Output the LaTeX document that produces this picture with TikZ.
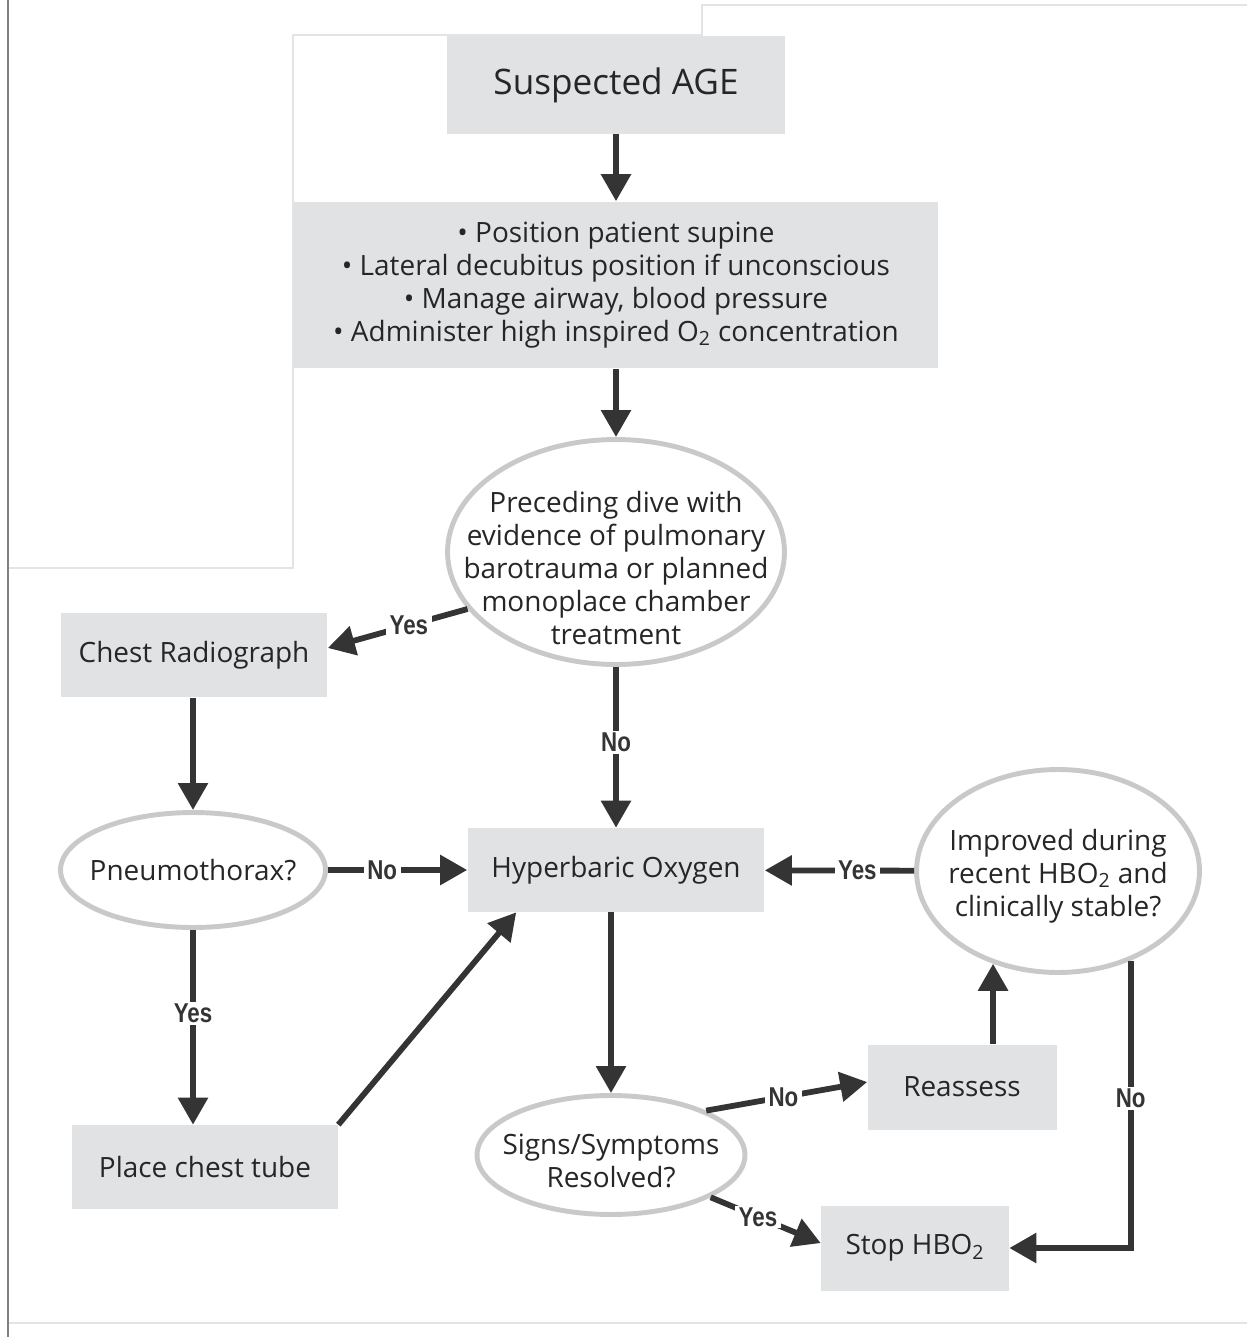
\documentclass[tikz,border=0pt]{standalone}
\usepackage{fontspec}
\setmainfont{Open Sans}
\newfontfamily\yesnofont{Liberation Sans}[FakeStretch=0.82]
\usetikzlibrary{arrows.meta,shapes.geometric}
\definecolor{boxgrey}{RGB}{225,226,228}
\definecolor{ovalgrey}{RGB}{200,201,203}
\definecolor{arrowgrey}{RGB}{52,52,52}
\definecolor{inkgrey}{RGB}{38,38,38}
\definecolor{scangrey}{RGB}{228,228,228}
\begin{document}
\begin{tikzpicture}[x=0.02cm,y=-0.02cm,
  >={Triangle[length=0.54cm,width=0.58cm]},
  every node/.style={text=inkgrey,font=\fontsize{15.9}{18.8}\selectfont},
  stepbox/.style={rectangle,fill=boxgrey,inner sep=0pt,align=center},
  question/.style={ellipse,draw=ovalgrey,line width=2.8pt,fill=white,inner sep=0pt},
  flow/.style={->,draw=arrowgrey,line width=3.3pt},
  yn/.style={fill=white,inner xsep=2pt,inner ysep=1pt,text=arrowgrey,
    font=\yesnofont\bfseries\fontsize{15.5}{15.5}\selectfont}]
  \useasboundingbox (0,0) rectangle (1247,1337);
  % edges of the scan
  \draw[scangrey,line width=0.6pt] (8,1323) -- (1247,1323);
  \draw[scangrey,line width=0.6pt] (8,568) -- (293,568) -- (293,35) -- (702,35) -- (702,5) -- (1247,5);
  \draw[gray,line width=1pt] (8,0) -- (8,1337);
  % boxes
  \node[stepbox,minimum width=6.78cm,minimum height=1.96cm,font=\fontsize{20}{22}\selectfont] (age) at (616,85) {Suspected AGE};
  \node[stepbox,minimum width=12.9cm,minimum height=3.34cm] (first) at (616,285)
    {\textbullet\ Position patient supine\\
     \textbullet\ Lateral decubitus position if unconscious\\
     \textbullet\ Manage airway, blood pressure\\
     \textbullet\ Administer high inspired O\textsubscript{2} concentration};
  \node[stepbox,minimum width=5.34cm,minimum height=1.7cm] (chest) at (194,655) {Chest Radiograph};
  \node[stepbox,minimum width=5.94cm,minimum height=1.68cm] (hbo) at (616,870) {Hyperbaric Oxygen};
  \node[stepbox,minimum width=5.32cm,minimum height=1.68cm] (tube) at (205,1167) {Place chest tube};
  \node[stepbox,minimum width=3.78cm,minimum height=1.7cm] (reassess) at (962,1087) {Reassess};
  \node[stepbox,minimum width=3.76cm,minimum height=1.7cm] (stop) at (915,1248) {Stop HBO\textsubscript{2}};
  % questions
  \node[question,minimum width=6.74cm,minimum height=4.5cm,
    label={[align=center,yshift=-0.32cm]center:Preceding dive with\\evidence of pulmonary\\barotrauma or planned\\monoplace chamber\\treatment}] (dive) at (616,552) {};
  \node[question,minimum width=5.3cm,minimum height=2.3cm,
    label={center:Pneumothorax?}] (pneu) at (193,870) {};
  \node[question,minimum width=5.66cm,minimum height=4.06cm,
    label={[align=center,yshift=-0.1cm]center:Improved during\\recent HBO\textsubscript{2} and\\clinically stable?}] (improved) at (1058,871) {};
  \node[question,minimum width=5.36cm,minimum height=2.38cm,
    label={[align=center,yshift=-0.12cm]center:Signs/Symptoms\\Resolved?}] (signs) at (611,1155) {};
  % arrows
  \draw[flow] (age) -- (first);
  \draw[flow] (first) -- (dive);
  \draw[flow] (dive.201) -- node[yn,pos=0.42] (yesA) {Yes} (chest.3);
  \draw[flow] (dive) -- node[yn,pos=0.47] (noA) {No} (hbo);
  \draw[flow] (chest.south -| pneu.north) -- (pneu);
  \draw[flow] (pneu) -- node[yn,pos=0.39] (noB) {No} (hbo);
  \draw[flow] (pneu) -- node[yn,pos=0.43] (yesB) {Yes} (pneu.south |- tube.north);
  \draw[flow] (tube.north east) -- (hbo.203);
  \draw[flow] (improved) -- node[yn,pos=0.38] (yesC) {Yes} (hbo);
  \draw[flow] (signs.north |- hbo.south) -- (signs);
  \draw[flow] (signs.25) -- node[yn,pos=0.48] (noC) {No} (reassess.177);
  \draw[flow] (signs.337) -- node[yn,pos=0.43] (yesD) {Yes} (stop.177);
  \draw[flow] (reassess.north -| improved.235) -- (improved.235);
  \draw[flow] (improved.309) |- node[yn,pos=0.24] (noD) {No} (stop.east);
\end{tikzpicture}
\end{document}
